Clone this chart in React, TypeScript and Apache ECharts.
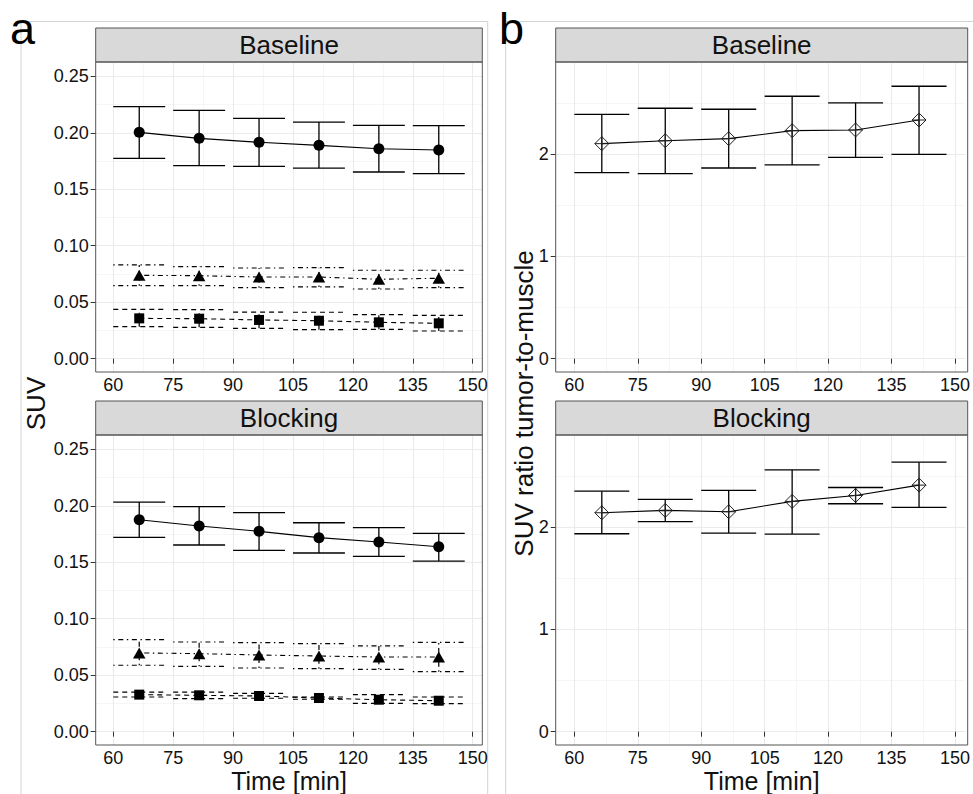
import React, { useEffect, useRef } from "react";
import * as echarts from "echarts";

// Sampling times (min)
const timePoints = [66.5, 81.5, 96.5, 111.5, 126.5, 141.5];

// Panel a – SUV, Baseline
const baseCircleMean = [0.2004, 0.1951, 0.1916, 0.1889, 0.1859, 0.1848];
const baseCircleLow = [0.1774, 0.1709, 0.1703, 0.1688, 0.1653, 0.1638];
const baseCircleHigh = [0.2231, 0.2199, 0.2128, 0.2095, 0.2066, 0.2063];
const baseTriangleMean = [0.0738, 0.0735, 0.0723, 0.0723, 0.0703, 0.0712];
const baseTriangleLow = [0.0646, 0.0646, 0.0629, 0.0635, 0.0617, 0.0629];
const baseTriangleHigh = [0.083, 0.0815, 0.0803, 0.0806, 0.0783, 0.0783];
const baseSquareMean = [0.0357, 0.0354, 0.0343, 0.0336, 0.0322, 0.0313];
const baseSquareLow = [0.0283, 0.0278, 0.0269, 0.0257, 0.026, 0.0245];
const baseSquareHigh = [0.0437, 0.0434, 0.0413, 0.0411, 0.039, 0.0384];

// Panel a – SUV, Blocking
const blockCircleMean = [0.1877, 0.1821, 0.1774, 0.1718, 0.1679, 0.1638];
const blockCircleLow = [0.1721, 0.1653, 0.1606, 0.1582, 0.1553, 0.1511];
const blockCircleHigh = [0.2033, 0.1992, 0.1939, 0.185, 0.1806, 0.1756];
const blockTriangleMean = [0.0697, 0.0691, 0.0679, 0.067, 0.0661, 0.0661];
const blockTriangleLow = [0.0588, 0.0579, 0.0564, 0.0558, 0.0552, 0.0531];
const blockTriangleHigh = [0.0815, 0.0794, 0.0788, 0.0779, 0.0759, 0.0791];
const blockSquareMean = [0.0328, 0.0322, 0.0316, 0.0298, 0.0283, 0.0274];
const blockSquareLow = [0.0307, 0.0292, 0.0296, 0.0287, 0.0251, 0.0248];
const blockSquareHigh = [0.0351, 0.0351, 0.034, 0.0307, 0.0328, 0.0307];

// Panel b – SUV ratio tumor-to-muscle
const baseRatioMean = [2.102, 2.131, 2.151, 2.229, 2.236, 2.333];
const baseRatioLow = [1.818, 1.808, 1.864, 1.894, 1.968, 1.998];
const baseRatioHigh = [2.389, 2.448, 2.438, 2.565, 2.5, 2.663];
const blockRatioMean = [2.14, 2.163, 2.15, 2.251, 2.309, 2.41];
const blockRatioLow = [1.935, 2.053, 1.941, 1.932, 2.228, 2.192];
const blockRatioHigh = [2.351, 2.27, 2.358, 2.56, 2.387, 2.634];

// Axis ticks
const timeTicks = [60, 75, 90, 105, 120, 135, 150];
const timeMinorTicks = [67.5, 82.5, 97.5, 112.5, 127.5, 142.5];
const suvTicks = [0, 0.05, 0.1, 0.15, 0.2, 0.25];
const suvMinorTicks = [0.025, 0.075, 0.125, 0.175, 0.225];
const ratioTicks = [0, 1, 2];
const ratioMinorTicks = [0.5, 1.5, 2.5];

const facetTitles = ["Baseline", "Blocking"];

// Layout
const FONT = "'Liberation Sans', Arial, Helvetica, sans-serif";
const INK = "#000";
const TEXT = "#111";
const leftX = 95.7;
const leftW = 386.6;
const rightX = 555.7;
const rightW = 412;
const rowTops = [62, 435];
const panelH = 310;
const stripH = 34;
const capHalf = 6.5;

const xRange = [55.6, 152.4];
const suvRange = [-0.0118, 0.2627];
const ratioRange = [-0.13, 2.9];

const DASHED = [5, 4];
const DOTDASH = [1.4, 3.6, 5, 3.6];

function majorAxis(gridIndex: number, range: number[], ticks: number[], fmt: (v: number) => string, margin: number) {
  return {
    type: "value",
    gridIndex,
    min: range[0],
    max: range[1],
    axisLine: { show: false },
    axisTick: { show: true, customValues: ticks, length: 5, lineStyle: { color: "#333", width: 1 } },
    axisLabel: {
      customValues: ticks,
      formatter: fmt,
      fontSize: 18,
      lineHeight: 18,
      fontFamily: FONT,
      color: TEXT,
      margin,
    },
    splitLine: { show: true, lineStyle: { color: "#EBEBEB", width: 1.1 } },
    z: 1,
  };
}

function minorAxis(gridIndex: number, range: number[], ticks: number[]) {
  return {
    type: "value",
    gridIndex,
    min: range[0],
    max: range[1],
    axisLine: { show: false },
    axisTick: { show: false, customValues: ticks },
    axisLabel: { show: false, customValues: ticks },
    splitLine: { show: true, lineStyle: { color: "#F4F4F4", width: 0.8 } },
    z: 0,
  };
}

function errorBars(axisIndex: number, low: number[], high: number[], dash: number[] | null, width: number) {
  return {
    type: "custom",
    xAxisIndex: axisIndex,
    yAxisIndex: axisIndex,
    data: timePoints.map((t, i) => [t, low[i], high[i]]),
    encode: { x: 0, y: [1, 2] },
    z: 3,
    renderItem: (params: any, api: any) => {
      const x = api.value(0);
      const pLo = api.coord([x, api.value(1)]);
      const pHi = api.coord([x, api.value(2)]);
      const half = api.size([capHalf, 0])[0];
      const style: any = { stroke: INK, lineWidth: width, fill: null };
      if (dash) style.lineDash = dash;
      return {
        type: "group",
        children: [
          { type: "line", shape: { x1: pLo[0], y1: pLo[1], x2: pHi[0], y2: pHi[1] }, style },
          { type: "line", shape: { x1: pHi[0] - half, y1: pHi[1], x2: pHi[0] + half, y2: pHi[1] }, style },
          { type: "line", shape: { x1: pLo[0] - half, y1: pLo[1], x2: pLo[0] + half, y2: pLo[1] }, style },
        ],
      };
    },
  };
}

function meanLine(axisIndex: number, mean: number[], dash: number[] | null, symbol: string, size: any) {
  return {
    type: "line",
    xAxisIndex: axisIndex,
    yAxisIndex: axisIndex,
    data: timePoints.map((t, i) => [t, mean[i]]),
    symbol,
    symbolSize: size,
    showSymbol: symbol !== "none",
    itemStyle: { color: INK },
    lineStyle: { color: INK, width: 1.1, type: dash ? dash : "solid" },
    z: 4,
  };
}

function diamondMarks(axisIndex: number, mean: number[]) {
  return {
    type: "custom",
    xAxisIndex: axisIndex,
    yAxisIndex: axisIndex,
    data: timePoints.map((t, i) => [t, mean[i]]),
    encode: { x: 0, y: 1 },
    z: 5,
    renderItem: (params: any, api: any) => {
      const c = api.coord([api.value(0), api.value(1)]);
      const r = 7;
      const style = { stroke: "#222", lineWidth: 1, fill: "none" };
      return {
        type: "group",
        children: [
          {
            type: "polygon",
            shape: { points: [[c[0], c[1] - r], [c[0] + r, c[1]], [c[0], c[1] + r], [c[0] - r, c[1]]] },
            style,
          },
          { type: "line", shape: { x1: c[0] - r, y1: c[1], x2: c[0] + r, y2: c[1] }, style },
          { type: "line", shape: { x1: c[0], y1: c[1] - r, x2: c[0], y2: c[1] + r }, style },
        ],
      };
    },
  };
}

function buildOption() {
  const panels = [
    { x: leftX, w: leftW, top: rowTops[0] },
    { x: leftX, w: leftW, top: rowTops[1] },
    { x: rightX, w: rightW, top: rowTops[0] },
    { x: rightX, w: rightW, top: rowTops[1] },
  ];
  const grid = panels.map((p) => ({ left: p.x, top: p.top, width: p.w, height: panelH, containLabel: false }));

  const fmtSuv = (v: number) => v.toFixed(2);
  const fmtRatio = (v: number) => String(v);

  const xAxis: any[] = [];
  const yAxis: any[] = [];
  panels.forEach((p, i) => {
    xAxis.push(majorAxis(i, xRange, timeTicks, (v: number) => String(v), 4));
    const isSuv = i < 2;
    yAxis.push(
      majorAxis(i, isSuv ? suvRange : ratioRange, isSuv ? suvTicks : ratioTicks, isSuv ? fmtSuv : fmtRatio, 7)
    );
  });
  panels.forEach((p, i) => {
    xAxis.push(minorAxis(i, xRange, timeMinorTicks));
    const isSuv = i < 2;
    yAxis.push(minorAxis(i, isSuv ? suvRange : ratioRange, isSuv ? suvMinorTicks : ratioMinorTicks));
  });

  const series: any[] = [
    // a – Baseline
    errorBars(0, baseSquareLow, baseSquareHigh, DASHED, 1.2),
    meanLine(0, baseSquareMean, DASHED, "rect", 10),
    errorBars(0, baseTriangleLow, baseTriangleHigh, DOTDASH, 1.2),
    meanLine(0, baseTriangleMean, DOTDASH, "triangle", [12.5, 11]),
    errorBars(0, baseCircleLow, baseCircleHigh, null, 1.3),
    meanLine(0, baseCircleMean, null, "circle", 11),
    // a – Blocking
    errorBars(1, blockSquareLow, blockSquareHigh, DASHED, 1.2),
    meanLine(1, blockSquareMean, DASHED, "rect", 10),
    errorBars(1, blockTriangleLow, blockTriangleHigh, DOTDASH, 1.2),
    meanLine(1, blockTriangleMean, DOTDASH, "triangle", [12.5, 11]),
    errorBars(1, blockCircleLow, blockCircleHigh, null, 1.3),
    meanLine(1, blockCircleMean, null, "circle", 11),
    // b – ratio
    errorBars(2, baseRatioLow, baseRatioHigh, null, 1.3),
    meanLine(2, baseRatioMean, null, "none", 0),
    diamondMarks(2, baseRatioMean),
    errorBars(3, blockRatioLow, blockRatioHigh, null, 1.3),
    meanLine(3, blockRatioMean, null, "none", 0),
    diamondMarks(3, blockRatioMean),
  ];

  const graphic: any[] = [];
  // sub-figure frames
  graphic.push({
    type: "rect",
    shape: { x: 21, y: 21.5, width: 466.7, height: 820 },
    style: { fill: "none", stroke: "#d2d2d2", lineWidth: 1 },
    z: -10,
  });
  graphic.push({
    type: "rect",
    shape: { x: 505.7, y: 21.5, width: 520, height: 820 },
    style: { fill: "none", stroke: "#d2d2d2", lineWidth: 1 },
    z: -10,
  });
  // panel letters
  graphic.push({
    type: "text",
    x: 10,
    y: 28,
    style: { text: "a", font: `45px ${FONT}`, fill: INK, verticalAlign: "middle", align: "left" },
    z: 50,
  });
  graphic.push({
    type: "text",
    x: 499,
    y: 28,
    style: { text: "b", font: `45px ${FONT}`, fill: INK, verticalAlign: "middle", align: "left" },
    z: 50,
  });
  // strips and panel borders
  panels.forEach((p, i) => {
    const title = facetTitles[i % 2];
    graphic.push({
      type: "rect",
      shape: { x: p.x, y: p.top - stripH, width: p.w, height: stripH },
      style: { fill: "#D9D9D9", stroke: "#555", lineWidth: 1 },
      z: 40,
    });
    graphic.push({
      type: "text",
      x: p.x + p.w / 2,
      y: p.top - stripH / 2,
      style: { text: title, font: `26px ${FONT}`, fill: TEXT, align: "center", verticalAlign: "middle" },
      z: 41,
    });
    graphic.push({
      type: "rect",
      shape: { x: p.x, y: p.top, width: p.w, height: panelH },
      style: { fill: "none", stroke: "#555", lineWidth: 1 },
      z: 40,
    });
  });
  // axis titles
  const titleMidY = (rowTops[0] + rowTops[1] + panelH) / 2;
  graphic.push({
    type: "text",
    x: 35.5,
    y: titleMidY,
    rotation: Math.PI / 2,
    style: { text: "SUV", font: `26px ${FONT}`, fill: TEXT, align: "center", verticalAlign: "middle" },
    z: 41,
  });
  graphic.push({
    type: "text",
    x: 523.5,
    y: titleMidY,
    rotation: Math.PI / 2,
    style: {
      text: "SUV ratio tumor-to-muscle",
      font: `26px ${FONT}`,
      fill: TEXT,
      align: "center",
      verticalAlign: "middle",
    },
    z: 41,
  });
  [leftX + leftW / 2, rightX + rightW / 2].forEach((cx) => {
    graphic.push({
      type: "text",
      x: cx,
      y: 781,
      style: {
        text: "Time [min]",
        font: `25px ${FONT}`,
        lineHeight: 24,
        fill: TEXT,
        align: "center",
        verticalAlign: "middle",
      },
      z: 41,
    });
  });

  return {
    animation: false,
    backgroundColor: "#fff",
    grid,
    xAxis,
    yAxis,
    series,
    graphic,
  };
}

export default function App() {
  const ref = useRef<HTMLDivElement>(null);
  useEffect(() => {
    if (!ref.current) return;
    const chart = echarts.init(ref.current, null, { renderer: "svg" });
    chart.setOption(buildOption() as any);
    return () => chart.dispose();
  }, []);
  return <div ref={ref} style={{ position: "absolute", left: 0, top: 0, width: 973, height: 794 }} />;
}
